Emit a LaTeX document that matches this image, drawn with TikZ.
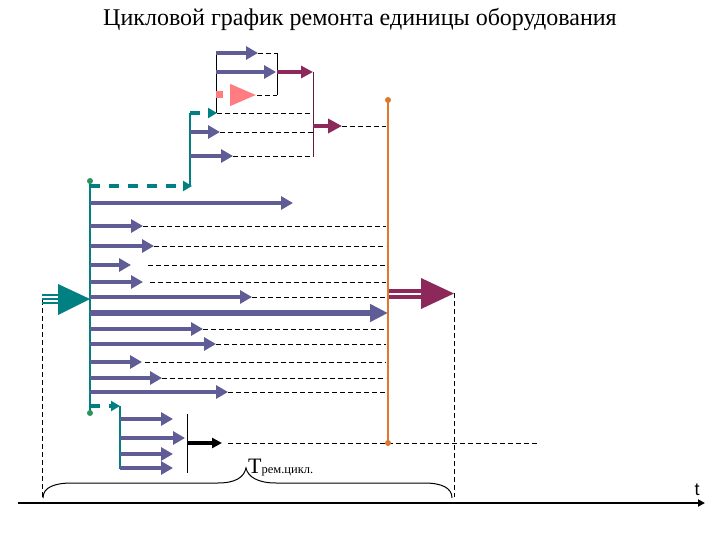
\documentclass[tikz,border=0pt]{standalone}
\usepackage{fontspec}
\setmainfont{Liberation Serif}
\newfontfamily\sansf{Liberation Sans}
\usetikzlibrary{arrows.meta}
\definecolor{pc}{RGB}{96,92,150}
\definecolor{mc}{RGB}{140,40,90}
\definecolor{tc}{RGB}{0,128,128}
\definecolor{pk}{RGB}{255,124,128}
\definecolor{oc}{RGB}{222,120,45}
\definecolor{gd}{RGB}{40,150,90}
\begin{document}
\begin{tikzpicture}[x=1pt,y=-1pt,
  parr/.style={draw=pc, line width=4pt, -{Triangle[length=12pt,width=13pt]}},
  marr/.style={draw=mc, line width=4pt, -{Triangle[length=12pt,width=12pt]}},
  dl/.style={draw=black, line width=0.8pt, dash pattern=on 5pt off 3pt},
  tdash/.style={draw=tc, line width=3.5pt, dash pattern=on 10pt off 9pt, -{Triangle[length=9pt,width=10pt]}},
  thinln/.style={line width=1pt}]
\useasboundingbox (0,0) rectangle (720,540);
\node[font=\fontsize{24}{28}\selectfont] (title) at (360,20) {Цикловой график ремонта единицы оборудования};

% dashed guide lines
\draw[dl] (258,53) -- (277,53);
\draw[dl] (257,95) -- (277,95);
\draw[dl] (217,113) -- (313,113);
\draw[dl] (220,132) -- (313,132);
\draw[dl] (233,156) -- (313,156);
\draw[dl] (342,126) -- (386,126);
\draw[dl] (143,226) -- (386,226);
\draw[dl] (154,246) -- (386,246);
\draw[dl] (148,265) -- (386,265);
\draw[dl] (150,282) -- (386,282);
\draw[dl] (252,297) -- (386,297);
\draw[dl] (203,329) -- (386,329);
\draw[dl] (216,344) -- (386,344);
\draw[dl] (145,362) -- (386,362);
\draw[dl] (162,378) -- (386,378);
\draw[dl] (228,392) -- (386,392);
\draw[dl] (228,443) -- (537,443);
\draw[dl] (42,300) -- (42,497);
\draw[dl] (454,293) -- (454,497);

% vertical lines
\draw[thinln, black] (216,53) -- (216,113);
\draw[thinln, black] (277,53) -- (277,95);
\draw[thinln, mc!70!black] (313,72) -- (313,157);
\draw[tc, line width=1.5pt] (190,113) -- (190,186);
\draw[tc, line width=2.5pt] (90,181) -- (90,413);
\draw[tc, line width=1.5pt] (120,406) -- (120,469);
\draw[thinln, black] (187,414) -- (187,473);
\draw[oc, line width=2.5pt] (388,100) -- (388,443);

% top cluster
\draw[parr] (216,53) -- (258,53);
\draw[parr] (216,72) -- (276,72);
\draw[marr] (277,72) -- (313,72);
\draw[pk, line width=7pt, dash pattern=on 7pt off 7pt, -{Triangle[length=27pt,width=20pt]}] (216,95) -- (257,95);
\draw[tdash] (190,113) -- (217,113);
\draw[parr] (190,132) -- (220,132);
\draw[parr] (190,156) -- (233,156);
\draw[marr, -{Triangle[length=14pt,width=14pt]}] (313,126) -- (342,126);

% left cluster
\draw[tdash] (90,186) -- (192,186);
\draw[parr] (90,203) -- (293,203);
\draw[parr] (90,226) -- (143,226);
\draw[parr] (90,246) -- (154,246);
\draw[parr] (90,265) -- (131,265);
\draw[parr] (90,282) -- (143,282);
\draw[parr] (90,297) -- (252,297);
\draw[draw=pc, line width=6pt, -{Triangle[length=18pt,width=17pt]}] (90,313) -- (388,313);
\draw[parr] (90,329) -- (203,329);
\draw[parr] (90,344) -- (216,344);
\draw[parr] (90,362) -- (142,362);
\draw[parr] (90,378) -- (162,378);
\draw[parr] (90,392) -- (228,392);

% big teal input arrow
\foreach \yy in {295,299,303} \draw[tc, line width=2pt] (42,\yy) -- (60,\yy);
\fill[tc] (58,284) -- (90,299) -- (58,315) -- cycle;

% big maroon output arrow
\draw[mc, line width=10pt] (389,294) -- (423,294);
\draw[white, line width=1.6pt] (389,294) -- (421,294);
\fill[mc] (421,278) -- (454,293.5) -- (421,309) -- cycle;

% bottom cluster
\draw[tdash] (90,406) -- (120,406);
\draw[parr] (120,419) -- (173,419);
\draw[parr] (120,438) -- (185,438);
\draw[parr] (120,454) -- (173,454);
\draw[parr] (120,468) -- (173,468);
\draw[black, line width=4pt, -{Triangle[length=10pt,width=10pt]}] (187,443) -- (222,443);

% dots
\fill[gd] (90,181) circle (3pt);
\fill[gd] (90,413) circle (3pt);
\fill[oc] (388,100) circle (3pt);
\fill[oc] (388,443) circle (3pt);

% brace
\draw[line width=1pt] (43,498) .. controls (43,487) and (55,483) .. (72,483) -- (218,483)
  .. controls (236,483) and (244,477) .. (246,468)
  .. controls (248,477) and (258,483) .. (276,483) -- (424,483)
  .. controls (442,483) and (452,488) .. (452,498);
\node[anchor=base west, inner sep=0pt] (tlabel) at (248,473) {\fontsize{22}{24}\selectfont Т\fontsize{12.5}{14}\selectfont рем.цикл.};

% time axis
\draw[line width=2pt, -{Triangle[length=7pt,width=7pt]}] (18,503) -- (705,503);
\node[font=\sansf\fontsize{18}{20}\selectfont, inner sep=0pt] (tt) at (697,490) {t};
\end{tikzpicture}
\end{document}
